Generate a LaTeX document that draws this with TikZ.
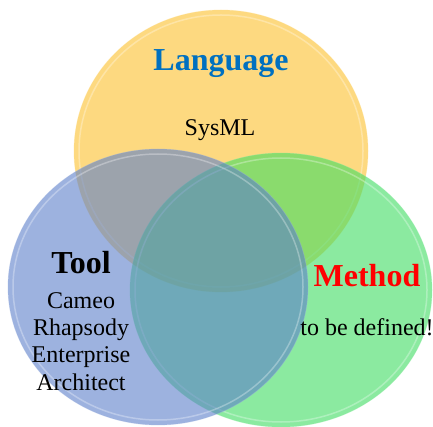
\documentclass[tikz,border=0pt]{standalone}
\usepackage{fontspec}
\setmainfont{Liberation Serif}
\definecolor{cyel}{RGB}{252,192,43}
\definecolor{cblu}{RGB}{92,127,202}
\definecolor{cgrn}{RGB}{62,220,97}
\definecolor{langblue}{RGB}{0,112,192}
\definecolor{methred}{RGB}{255,0,0}
\tikzset{
  venn/.style={fill opacity=0.6, draw opacity=0.35, line width=0.8pt},
  rim/.style={draw=white, line width=1.5pt, draw opacity=0.3},
  title/.style={font=\fontsize{32}{36}\selectfont\bfseries, anchor=base, inner sep=0pt},
  item/.style={font=\fontsize{24}{27}\selectfont, anchor=base, inner sep=0pt}
}
\begin{document}
\begin{tikzpicture}[x=1pt,y=-1pt]
\useasboundingbox (0,0) rectangle (433,427);
% circles
\path[venn, fill=cyel, draw=cyel!60!white] (221,151) ellipse [x radius=147, y radius=141];
\draw[rim] (221,151) ellipse [x radius=142, y radius=136];
\path[venn, fill=cgrn, draw=cgrn!60!white] (281,290) ellipse [x radius=151, y radius=137];
\draw[rim] (281,290) ellipse [x radius=146, y radius=132];
\path[venn, fill=cblu, draw=cblu!60!white] (158,287) ellipse [x radius=150, y radius=138];
\draw[rim] (158,287) ellipse [x radius=145, y radius=133];
% texts
\node[title, text=langblue] (lang) at (221,71) {Language};
\node[item] (sysml) at (220,136) {SysML};
\node[title] (tool) at (81,273) {Tool};
\node[item] (cameo) at (81,308) {Cameo};
\node[item] (rhap) at (81,335) {Rhapsody};
\node[item] (ent) at (81,362) {Enterprise};
\node[item] (arch) at (81,390) {Architect};
\node[title, text=methred] (meth) at (367,287) {Method};
\node[item] (tbd) at (367,335) {to be defined!};
\end{tikzpicture}
\end{document}
